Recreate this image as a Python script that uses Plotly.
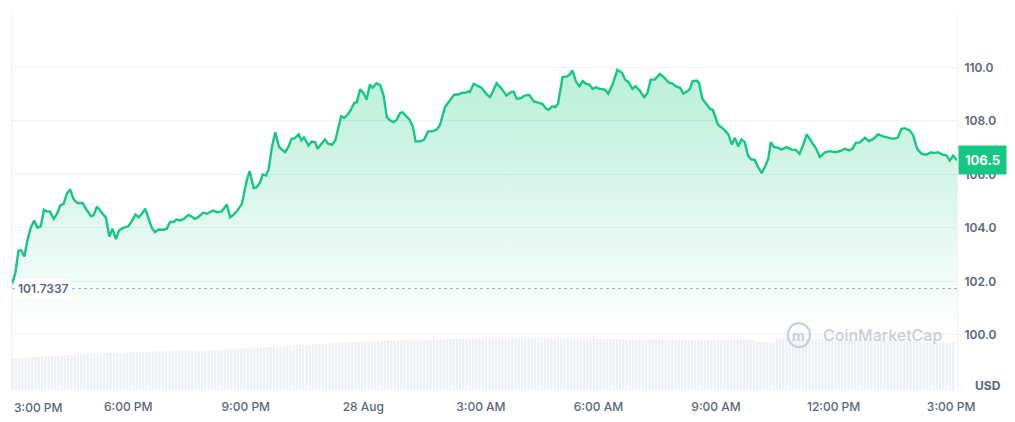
import pandas as pd
import plotly.graph_objects as go

# ---------------- data ----------------
start_time = "2024-08-27 15:00"
# minutes after start for each price sample
minutes = [2,7,12,16,21,25,31,36,41,46,51,55,60,66,71,76,81,86,91,96,102,110,117,123,127,132,137,146,151,156,161,166,173,180,186,191,196,201,206,211,216,221,226,234,239,244,249,254,259,265,272,277,282,287,295,300,305,310,316,323,331,336,341,347,354,359,362,366,372,377,382,386,391,395,400,405,411,420,425,430,435,441,445,449,456,461,466,470,475,481,486,492,497,502,506,511,517,521,526,530,535,540,545,550,554,560,566,571,576,581,586,591,596,600,606,611,616,620,627,633,639,645,652,657,665,670,679,685,691,696,700,703,709,716,721,729,734,739,744,752,759,766,770,775,781,787,794,801,808,814,820,824,829,834,838,845,852,856,860,866,871,876,881,886,891,896,902,910,915,922,929,936,941,946,952,957,963,970,975,980,986,994,1000,1008,1013,1018,1025,1030,1036,1040,1044,1050,1054,1059,1066,1071,1075,1083,1091,1099,1104,1109,1114,1119,1124,1129,1134,1139,1145,1150,1156,1160,1164,1169,1175,1180,1188,1196,1202,1208,1213,1219,1225,1233,1239,1247,1254,1262,1270,1277,1284,1289,1294,1300,1308,1314,1321,1328,1336,1344,1351,1358,1364,1369,1377,1382,1388,1395,1402,1409,1414,1420,1426,1433,1438,1443,1449]
price = [101.91,102.30,103.16,103.16,102.93,103.47,104.03,104.28,104.01,104.06,104.68,104.62,104.62,104.34,104.53,104.84,104.90,105.28,105.44,105.09,104.93,104.93,104.65,104.44,104.47,104.80,104.65,104.37,103.68,103.97,103.58,103.91,104.01,104.06,104.28,104.50,104.40,104.53,104.72,104.34,104.01,103.84,103.94,103.93,103.97,104.22,104.22,104.31,104.28,104.34,104.49,104.43,104.34,104.40,104.57,104.53,104.59,104.65,104.59,104.62,104.87,104.40,104.49,104.65,104.90,105.53,105.84,106.12,105.49,105.53,105.71,106.00,105.96,106.21,107.02,107.58,107.02,106.83,107.02,107.33,107.36,107.50,107.27,107.39,107.08,107.23,107.21,106.96,107.12,107.31,107.15,107.11,107.27,107.77,108.18,108.12,108.27,108.42,108.68,108.70,109.18,109.05,108.80,109.36,109.24,109.41,109.33,108.95,108.14,108.02,107.96,108.04,108.29,108.33,108.17,108.04,107.77,107.23,107.24,107.30,107.61,107.61,107.67,107.83,108.52,108.70,108.98,108.99,109.05,109.05,109.10,109.08,109.39,109.30,109.24,108.99,108.89,109.14,109.41,109.20,108.95,109.08,109.10,108.83,108.85,108.95,108.98,108.73,108.67,108.64,108.46,108.42,108.55,108.52,108.64,109.64,109.67,109.73,109.89,109.45,109.30,109.49,109.39,109.36,109.20,109.26,109.20,109.17,109.02,109.39,109.91,109.80,109.54,109.45,109.20,109.30,109.14,108.89,109.05,109.54,109.55,109.76,109.64,109.43,109.41,109.30,109.24,109.02,109.11,109.20,109.48,109.51,109.43,108.83,108.61,108.45,108.42,107.86,107.71,107.50,107.12,107.37,107.05,107.31,107.21,106.71,106.56,106.55,106.25,106.05,106.34,106.59,107.21,107.02,107.00,106.93,107.02,106.93,106.92,106.77,107.08,107.50,107.27,106.98,106.65,106.83,106.87,106.83,106.87,106.96,106.90,106.96,107.19,107.19,107.37,107.25,107.33,107.50,107.42,107.36,107.33,107.37,107.71,107.73,107.64,107.46,106.96,106.77,106.74,106.83,106.80,106.83,106.75,106.71,106.52,106.71,106.53]

open_price = 101.7337

# 5-minute volume bars (relative units), one row per hour
volume = [
    3.10,3.13,3.16,3.19,3.22,3.24,3.27,3.30,3.32,3.35,3.37,3.40,
    3.42,3.44,3.46,3.48,3.50,3.52,3.54,3.56,3.58,3.60,3.62,3.64,
    3.65,3.66,3.67,3.68,3.69,3.70,3.71,3.72,3.73,3.74,3.75,3.76,
    3.77,3.78,3.79,3.80,3.81,3.82,3.83,3.84,3.85,3.86,3.87,3.88,
    3.89,3.90,3.90,3.91,3.91,3.92,3.92,3.93,3.93,3.94,3.94,3.95,
    3.96,3.97,3.98,3.99,4.00,4.02,4.04,4.06,4.08,4.10,4.12,4.14,
    4.16,4.18,4.20,4.22,4.24,4.26,4.28,4.30,4.32,4.34,4.36,4.38,
    4.40,4.42,4.44,4.46,4.48,4.50,4.52,4.54,4.56,4.58,4.60,4.62,
    4.64,4.66,4.68,4.70,4.72,4.74,4.76,4.78,4.80,4.82,4.83,4.84,
    4.85,4.86,4.87,4.88,4.89,4.90,4.91,4.92,4.93,4.94,4.95,4.96,
    4.97,4.98,4.99,5.00,5.01,5.02,5.03,5.04,5.05,5.06,5.07,5.08,
    5.09,5.10,5.11,5.12,5.12,5.13,5.13,5.14,5.14,5.15,5.15,5.15,
    5.16,5.16,5.16,5.17,5.17,5.17,5.18,5.18,5.18,5.19,5.19,5.19,
    5.20,5.20,5.20,5.20,5.20,5.20,5.19,5.19,5.19,5.18,5.18,5.18,
    5.17,5.17,5.16,5.16,5.15,5.15,5.14,5.14,5.13,5.13,5.12,5.12,
    5.11,5.10,5.10,5.09,5.08,5.08,5.07,5.07,5.06,5.06,5.06,5.05,
    5.05,5.05,5.05,5.05,5.05,5.05,5.05,5.05,5.05,5.05,5.05,5.05,
    5.05,5.05,5.05,5.05,5.05,5.05,5.05,5.05,5.05,5.05,5.05,5.05,
    5.05,5.05,5.05,5.05,5.05,5.05,5.05,5.05,5.05,5.05,5.05,5.05,
    4.80,4.80,4.80,4.80,4.80,4.80,5.15,5.15,5.15,5.15,5.15,5.15,
    5.15,5.15,5.15,5.14,5.14,5.14,5.13,5.13,5.12,5.12,5.11,5.10,
    5.09,5.08,5.07,5.06,5.05,5.04,5.03,5.02,5.01,5.00,4.99,4.98,
    4.97,4.96,4.95,4.94,4.93,4.92,4.91,4.90,4.89,4.88,4.87,4.86,
    4.85,4.84,4.83,4.82,4.81,4.80,4.79,4.78,4.77,4.76,4.75,4.74,
    4.73,
]

x_tick_times = ["2024-08-27 18:00","2024-08-27 21:00","2024-08-28 00:00","2024-08-28 03:00",
                "2024-08-28 06:00","2024-08-28 09:00","2024-08-28 12:00","2024-08-28 15:00"]
x_tick_text = ["6:00 PM","9:00 PM","28 Aug","3:00 AM","6:00 AM","9:00 AM","12:00 PM","3:00 PM"]
first_tick_text = "3:00 PM"
y_tick_vals = [100,102,104,106,108,110,112]
y_tick_text = ["100.0","102.0","104.0","106.0","108.0","110.0",""]

assert len(minutes) == len(price)

# ---------------- build ----------------
base = pd.Timestamp(start_time)
times = base + pd.to_timedelta(minutes, unit="min")
vol_times = base + pd.to_timedelta([5 * i + 3 for i in range(len(volume))], unit="min")

GREEN = "#16C784"
GREY_TXT = "#58667E"
GRID = "#EFF1F4"

fig = go.Figure()

fig.add_trace(go.Bar(
    x=vol_times, y=volume, yaxis="y2",
    marker=dict(color="#ECEFF4", line=dict(width=0)),
    hoverinfo="skip", showlegend=False,
))

fig.add_trace(go.Scatter(
    x=times, y=price, mode="lines",
    line=dict(color=GREEN, width=2.4),
    fill="tozeroy",
    fillgradient=dict(type="vertical", start=100.0, stop=110.0,
                      colorscale=[[0, "rgba(22,199,132,0.0)"], [1, "rgba(22,199,132,0.30)"]]),
    showlegend=False,
))

fig.update_layout(
    width=1015, height=422,
    margin=dict(l=12, r=58, t=14, b=32, autoexpand=False),
    paper_bgcolor="white", plot_bgcolor="white",
    bargap=0.3,
    font=dict(family="Inter, Roboto, sans-serif", color=GREY_TXT, size=12),
    xaxis=dict(
        range=[times[0], times[-1]], automargin=False,
        tickvals=pd.to_datetime(x_tick_times), ticktext=x_tick_text,
        showgrid=False, zeroline=False, showline=False, ticks="",
        tickfont=dict(size=12, color=GREY_TXT, weight=500),
        ticklabelstandoff=8,
    ),
    yaxis=dict(
        side="right", range=[97.94, 112], automargin=False,
        tickvals=y_tick_vals, ticktext=y_tick_text,
        showgrid=True, gridcolor=GRID, gridwidth=1,
        zeroline=False, showline=True, linecolor=GRID, mirror=True, ticks="",
        tickfont=dict(size=12, color=GREY_TXT, weight=600),
        ticklabelstandoff=4,
    ),
    yaxis2=dict(overlaying="y", range=[0, 37.6], visible=False, fixedrange=True),
)

# opening price reference line and label
fig.add_shape(type="line", xref="paper", x0=0, x1=1, yref="y", y0=open_price, y1=open_price,
              line=dict(color="#A7B1C2", width=1, dash="dot"), layer="above")
fig.add_annotation(xref="paper", x=0.003, yref="y", y=open_price, xanchor="left", yanchor="middle",
                   text=f"{open_price:.4f}", showarrow=False, bgcolor="white", borderpad=2,
                   font=dict(size=12, color=GREY_TXT, weight=600))

# last price badge
fig.add_annotation(xref="paper", x=1, yref="y", y=price[-1], xanchor="left", yanchor="middle",
                   text=f"<b>{round(price[-1], 1):.1f}</b>", showarrow=False, bgcolor=GREEN,
                   borderpad=6, xshift=1, font=dict(size=13, color="white"))

# first x tick label (left aligned at the edge)
fig.add_annotation(xref="paper", x=0, yref="paper", y=0, xanchor="left", yanchor="top",
                   text=first_tick_text, showarrow=False, yshift=-8,
                   font=dict(size=12, color=GREY_TXT, weight=500))

# currency label
fig.add_annotation(xref="paper", x=1.017, yref="paper", y=0.012, xanchor="left", yanchor="middle",
                   text="<b>USD</b>", showarrow=False, font=dict(size=12, color=GREY_TXT))

# watermark
WM = "#C9CED8"
fig.add_shape(type="circle", xref="paper", yref="paper",
              x0=0.821, x1=0.8444, y0=0.114, y1=0.178,
              line=dict(color=WM, width=2.2), layer="above")
fig.add_annotation(xref="paper", x=0.8327, yref="paper", y=0.146, text="<b>m</b>", showarrow=False,
                   font=dict(size=14, color=WM), xanchor="center", yanchor="middle")
fig.add_annotation(xref="paper", x=0.856, yref="paper", y=0.145, xanchor="left", yanchor="middle",
                   text="CoinMarketCap", showarrow=False, font=dict(size=16, color=WM, weight=500))

fig.write_html("out.html", config={"displayModeBar": False},
               post_script="document.body.style.margin='0';")
